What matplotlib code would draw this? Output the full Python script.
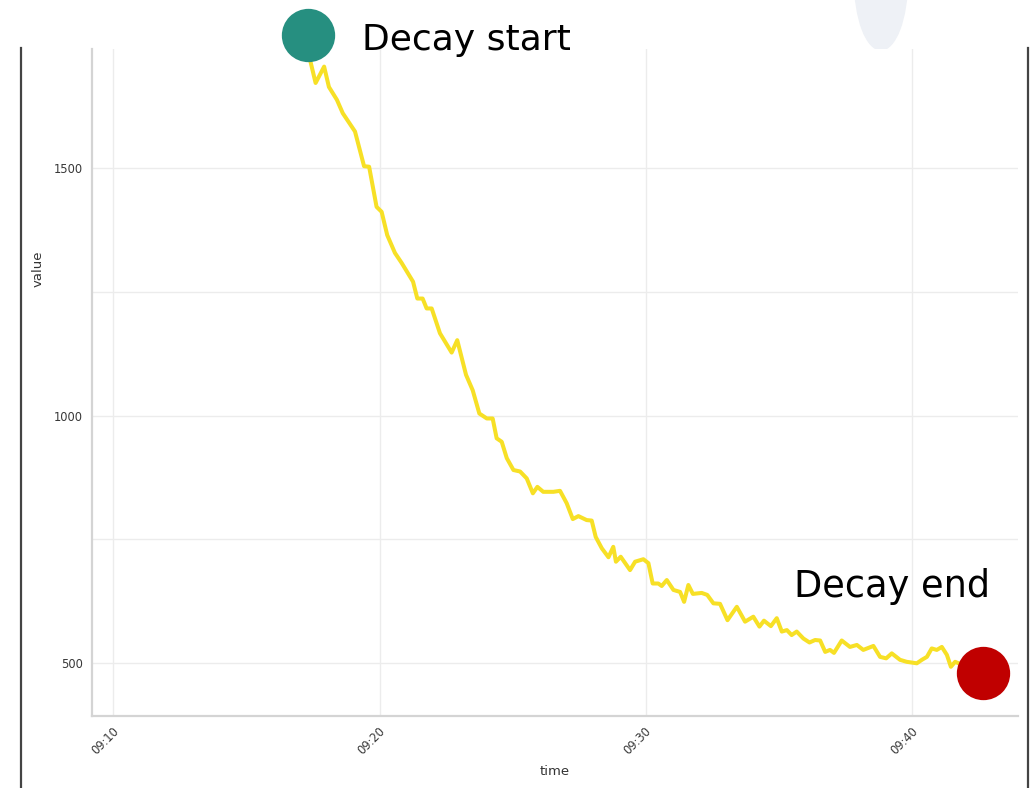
import numpy as np
import pandas as pd
import matplotlib
matplotlib.use("Agg")
import matplotlib.pyplot as plt
import matplotlib.dates as mdates
from matplotlib.patches import Ellipse
from matplotlib.transforms import ScaledTranslation

# minutes after 09:00 and the measured value
t_min = [17.35, 17.60, 17.92, 18.10, 18.40, 18.62, 19.08, 19.42, 19.61, 19.89,
         20.08, 20.29, 20.58, 20.83, 21.26, 21.42, 21.62, 21.77, 21.96, 22.27,
         22.71, 22.92, 23.25, 23.50, 23.75, 24.03, 24.25, 24.40, 24.59, 24.78,
         25.03, 25.28, 25.53, 25.76, 25.93, 26.15, 26.53, 26.78, 27.03, 27.26,
         27.47, 27.78, 27.97, 28.12, 28.35, 28.60, 28.78, 28.88, 29.06, 29.41,
         29.60, 29.91, 30.10, 30.26, 30.47, 30.60, 30.79, 31.04, 31.29, 31.44,
         31.60, 31.77, 32.10, 32.31, 32.54, 32.79, 33.07, 33.42, 33.73, 34.04,
         34.27, 34.44, 34.70, 34.92, 35.11, 35.30, 35.48, 35.67, 35.92, 36.15,
         36.36, 36.55, 36.74, 36.92, 37.07, 37.36, 37.67, 37.93, 38.17, 38.55,
         38.80, 39.03, 39.24, 39.55, 39.80, 40.18, 40.37, 40.56, 40.74, 40.93,
         41.12, 41.31, 41.46, 41.62, 41.88]
values = [1727, 1671, 1704, 1663, 1637, 1610, 1573, 1503, 1502, 1421,
          1411, 1364, 1328, 1308, 1270, 1236, 1236, 1216, 1216, 1166,
          1127, 1152, 1082, 1051, 1004, 994, 994, 954, 947, 914,
          890, 887, 873, 843, 856, 846, 846, 848, 823, 791,
          797, 789, 788, 755, 732, 714, 735, 705, 715, 688,
          705, 710, 702, 661, 661, 656, 668, 648, 644, 624,
          658, 640, 642, 638, 621, 620, 587, 614, 584, 594,
          574, 586, 575, 591, 564, 567, 557, 564, 550, 542,
          547, 546, 523, 527, 521, 546, 533, 537, 527, 535,
          513, 510, 520, 507, 503, 500, 507, 513, 530, 527,
          533, 517, 493, 503, 497]

start_point = (17.30, 1768)
end_point = (42.68, 480)
start_label = "Decay start"
end_label = "Decay end"

base = pd.Timestamp("2020-01-01 09:00")
times = base + pd.to_timedelta(t_min, unit="m")

fig = plt.figure(figsize=(10.36, 7.88), dpi=100)
ax = fig.add_axes([0.0885, 0.0914, 0.8941, 0.8464])

ax.plot(times, values, color="#f7e026", lw=2.9, solid_joinstyle="round", zorder=3)

# start / end markers
sx = base + pd.to_timedelta(start_point[0], unit="m")
ex = base + pd.to_timedelta(end_point[0], unit="m")
ax.plot([sx], [start_point[1]], "o", ms=38.4, color="#268f80", mec="none",
        clip_on=False, zorder=5)
ax.plot([ex], [end_point[1]], "o", ms=38.4, color="#c00000", mec="none",
        clip_on=False, zorder=5)

ax.set_xlim(base + pd.to_timedelta(9.19, unit="m"), base + pd.to_timedelta(43.98, unit="m"))
ax.set_ylim(393.7, 1739.5)

ax.xaxis.set_major_locator(mdates.MinuteLocator(byminute=[10, 20, 30, 40]))
ax.xaxis.set_major_formatter(mdates.DateFormatter("%H:%M"))
ax.set_yticks([500, 1000, 1500])
ax.set_yticklabels(["500", "1000", "1500"])
ax.set_yticks([750, 1250], minor=True)

ax.grid(True, which="both", axis="y", color="#ececec", lw=1.0)
ax.grid(True, which="major", axis="x", color="#ececec", lw=1.0)
ax.set_axisbelow(True)

for s in ["top", "right"]:
    ax.spines[s].set_visible(False)
for s in ["left", "bottom"]:
    ax.spines[s].set_color("#d4d4d4")
    ax.spines[s].set_linewidth(1.6)

ax.tick_params(axis="both", which="both", length=0, labelsize=8.3,
               labelcolor="#383838", pad=6.5)
for lab in ax.get_xticklabels():
    lab.set_rotation(45)
    lab.set_ha("center")
    lab.set_va("top")
    lab.set_transform(lab.get_transform() + ScaledTranslation(-8 / 100, 0, fig.dpi_scale_trans))

ax.set_xlabel("time", fontsize=9.5, color="#333333")
ax.set_ylabel("value", fontsize=9.5, color="#333333")
ax.xaxis.set_label_coords(0.5002, -0.0825)
ax.xaxis.label.set_va("center")
ax.yaxis.set_label_coords(-0.0574, 0.6702)
ax.yaxis.label.set_va("center")

# annotation text
fig.text(362 / 1036, 1 - 50 / 788, start_label, fontsize=26, color="black", ha="left", va="baseline")
fig.text(794 / 1036, 1 - 597 / 788, end_label, fontsize=26.5, color="black", ha="left", va="baseline")

# slide decorations around the pasted chart
fig.patches.append(Ellipse((881 / 1036, 1 + 20 / 788), 53 / 1036, 140 / 788,
                           transform=fig.transFigure, color="#eef1f6", zorder=-1))
fig.add_artist(plt.Line2D([21 / 1036, 21 / 1036], [0, 1 - 48 / 788],
                          transform=fig.transFigure, color="#444444", lw=1.6))
fig.add_artist(plt.Line2D([1027.5 / 1036, 1027.5 / 1036], [0, 1 - 48 / 788],
                          transform=fig.transFigure, color="#444444", lw=1.6))

fig.savefig("out.png", dpi=100)
